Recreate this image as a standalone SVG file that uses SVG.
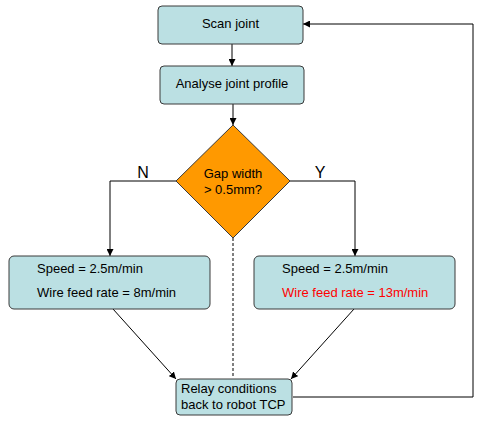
<svg xmlns="http://www.w3.org/2000/svg" width="480" height="425" viewBox="0 0 480 425">
<defs>
<style>
.box{fill:#bbe0e3;stroke:#3a3a3a;stroke-width:1}
.t{font-family:"Liberation Sans",Arial,sans-serif;font-size:13px;fill:#000}
.lbl{font-family:"Liberation Sans",Arial,sans-serif;font-size:16px;fill:#000}
.c{stroke:#000;stroke-width:1;fill:none}
</style>
<marker id="ah" viewBox="0 0 10 10" refX="10" refY="5" markerWidth="7" markerHeight="7" orient="auto" markerUnits="userSpaceOnUse">
<path d="M0,0 L10,5 L0,10 z" fill="#000"/>
</marker>
</defs>
<rect width="480" height="425" fill="#fff"/>
<g id="connectors">
<line class="c" x1="232" y1="44" x2="232" y2="66" marker-end="url(#ah)"/>
<line class="c" x1="233" y1="104" x2="233" y2="125" marker-end="url(#ah)"/>
<polyline class="c" points="176,181 110,181 110,256" marker-end="url(#ah)"/>
<polyline class="c" points="290,181 355,181 355,256" marker-end="url(#ah)"/>
<line class="c" x1="233" y1="238" x2="233" y2="378" stroke-dasharray="3,2"/>
<line class="c" x1="113" y1="309" x2="176" y2="379" marker-end="url(#ah)"/>
<line class="c" x1="354" y1="309" x2="291" y2="379" marker-end="url(#ah)"/>
<polyline class="c" points="293,397 473,397 473,24 303,24" marker-end="url(#ah)"/>
<text class="lbl" x="143" y="178" text-anchor="middle">N</text>
<text class="lbl" x="320" y="178" text-anchor="middle">Y</text>
</g>
<g id="scan">
<rect class="box" x="158" y="6" width="145" height="38" rx="4"/>
<text class="t" x="230.5" y="28" text-anchor="middle">Scan joint</text>
</g>
<g id="analyse">
<rect class="box" x="160" y="66" width="144" height="38" rx="4"/>
<text class="t" x="232" y="88" text-anchor="middle">Analyse joint profile</text>
</g>
<g id="decision">
<polygon points="233,125 290,181 233,238 176,181" fill="#ff9900" stroke="#3a3a3a" stroke-width="1"/>
<text class="t" x="233" y="178" text-anchor="middle">Gap width</text>
<text class="t" x="233" y="194" text-anchor="middle">&gt; 0.5mm?</text>
</g>
<g id="left">
<rect class="box" x="9" y="256" width="201" height="53" rx="5"/>
<text class="t" x="37" y="273">Speed = 2.5m/min</text>
<text class="t" x="37" y="297">Wire feed rate = 8m/min</text>
</g>
<g id="right">
<rect class="box" x="254" y="256" width="201" height="53" rx="5"/>
<text class="t" x="282" y="273">Speed = 2.5m/min</text>
<text class="t" x="282" y="297" style="fill:#ff0000">Wire feed rate = 13m/min</text>
</g>
<g id="relay">
<rect class="box" x="176" y="379" width="116" height="36" rx="4"/>
<text class="t" x="181" y="393">Relay conditions</text>
<text class="t" x="181" y="409">back to robot TCP</text>
</g>
</svg>
